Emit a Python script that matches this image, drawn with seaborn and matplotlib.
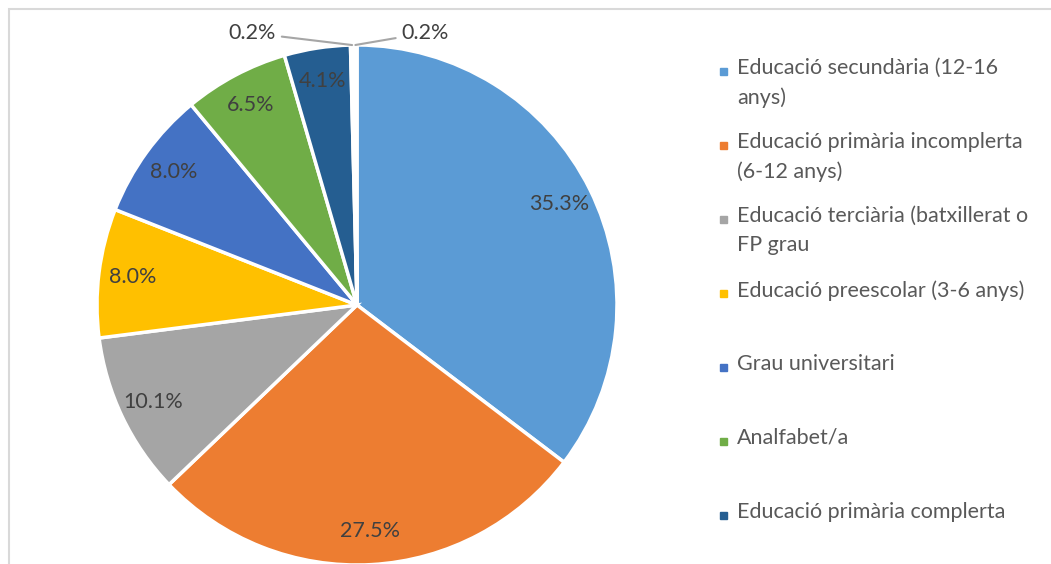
import matplotlib
matplotlib.use('Agg')
import matplotlib.pyplot as plt
from matplotlib.patches import Rectangle
import numpy as np
import seaborn as sns

# nivell d'estudis (percentatges llegits del gràfic)
categories = ['Educació secundària (12-16 anys)',
              'Educació primària incomplerta (6-12 anys)',
              'Educació terciària (batxillerat o FP grau',
              'Educació preescolar (3-6 anys)',
              'Grau universitari',
              'Analfabet/a',
              'Educació primària complerta',
              'Altres (1)',
              'Altres (2)']
values = [35.3, 27.5, 10.1, 8.0, 8.0, 6.5, 4.1, 0.2, 0.2]
legend_labels = ['Educació secundària (12-16\nanys)',
                 'Educació primària incomplerta\n(6-12 anys)',
                 'Educació terciària (batxillerat o\nFP grau',
                 'Educació preescolar (3-6 anys)',
                 'Grau universitari',
                 'Analfabet/a',
                 'Educació primària complerta']
colors = ['#5B9BD5', '#ED7D31', '#A5A5A5', '#FFC000', '#4472C4',
          '#70AD47', '#255E91', '#9E480E', '#636363']

W, H = 1051, 564
CX, CY, R = 357, H - 305, 260

sns.set_theme(style='white')
plt.rcParams['font.family'] = ['Lato', 'DejaVu Sans']

fig = plt.figure(figsize=(W / 100, H / 100), dpi=100)
ax = fig.add_axes([0, 0, 1, 1])
palette = sns.color_palette(colors)

small = [v < 1 for v in values]


def fmt(p):
    return '' if p < 1 else f'{p:.1f}%'


wedges, texts, autotexts = ax.pie(
    values, colors=palette, startangle=90, counterclock=False,
    center=(CX, CY), radius=R, autopct=fmt, pctdistance=0.87,
    wedgeprops=dict(edgecolor='white', linewidth=2.5),
    textprops=dict(color='#404040', fontsize=15.5))

# etiquetes de les porcions petites amb línia guia
offsets = [(-100, 12), (70, 12)]
k = 0
for w, v, is_small in zip(wedges, values, small):
    if not is_small:
        continue
    mid = np.deg2rad((w.theta1 + w.theta2) / 2)
    xy = (CX + R * np.cos(mid), CY + R * np.sin(mid))
    ax.annotate(f'{v:.1f}%', xy=xy, xytext=offsets[k], textcoords='offset pixels',
                ha='center', va='center', color='#404040', fontsize=15.5,
                arrowprops=dict(arrowstyle='-', color='#A6A6A6', lw=1.5,
                                shrinkA=2, shrinkB=0))
    k += 1

ax.set_xlim(0, W)
ax.set_ylim(0, H)
ax.set_aspect('equal')
ax.axis('off')

# marc del gràfic
ax.add_patch(Rectangle((8.5, -50), 1200, H - 8.5 + 50, fill=False,
                       edgecolor='#D9D9D9', linewidth=1.5, clip_on=False))

# llegenda
for i, (lab, col) in enumerate(zip(legend_labels, colors)):
    y = H - (71 + 74 * i)
    ax.add_patch(Rectangle((720, y - 3.5), 7, 7, color=col, clip_on=False))
    ax.text(737, y + 13, lab, ha='left', va='top', color='#595959',
            fontsize=15.5, linespacing=1.55)

fig.savefig('out.png', dpi=100)
